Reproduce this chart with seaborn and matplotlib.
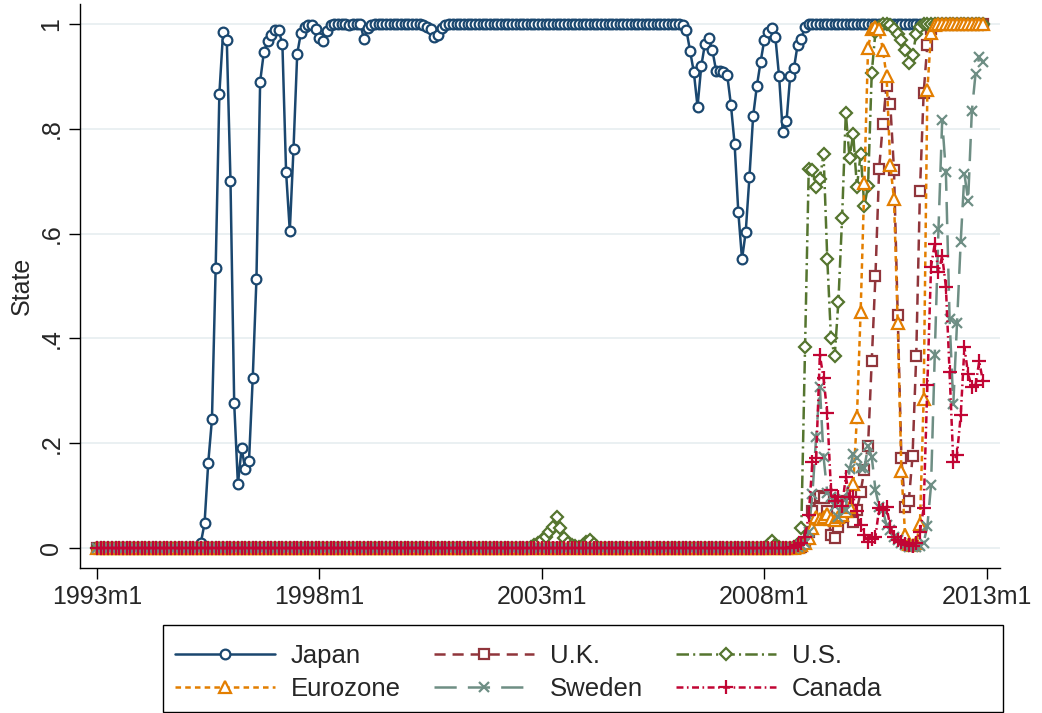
import numpy as np
import matplotlib
matplotlib.use("Agg")
import matplotlib.pyplot as plt
from matplotlib.patches import Rectangle
import seaborn as sns

# Monthly probability of being in the state, 1993m1 .. 2012m12 (one row per year)
japan = [
    0, 0, 0, 0, 0, 0, 0, 0, 0, 0, 0, 0,                                         # 1993
    0, 0, 0, 0, 0, 0, 0, 0, 0, 0, 0, 0,                                         # 1994
    0, 0, 0, 0, 0.01, 0.047, 0.163, 0.246, 0.534, 0.867, 0.984, 0.969,          # 1995
    0.700, 0.276, 0.122, 0.19, 0.15, 0.167, 0.324, 0.513, 0.89, 0.946, 0.968, 0.979,  # 1996
    0.988, 0.988, 0.962, 0.717, 0.605, 0.762, 0.943, 0.983, 0.994, 0.998, 0.998, 0.99,  # 1997
    0.973, 0.967, 0.987, 0.997, 0.999, 1, 1, 0.999, 0.998, 0.999, 1, 1,         # 1998
    0.972, 0.993, 0.998, 1, 1, 1, 0.999, 1, 1, 1, 1, 1,                         # 1999
    1, 1, 1, 0.999, 0.998, 0.995, 0.99, 0.975, 0.978, 0.992, 0.998, 1,          # 2000
    1, 1, 1, 1, 1, 1, 1, 1, 1, 1, 1, 1,                                         # 2001
    1, 1, 1, 1, 1, 1, 1, 1, 1, 1, 1, 1,                                         # 2002
    1, 1, 1, 1, 1, 1, 1, 1, 1, 1, 1, 1,                                         # 2003
    1, 1, 1, 1, 1, 1, 1, 1, 1, 1, 1, 1,                                         # 2004
    1, 1, 1, 1, 1, 1, 1, 1, 1, 1, 1, 1,                                         # 2005
    1, 1, 0.998, 0.988, 0.948, 0.908, 0.842, 0.919, 0.962, 0.973, 0.95, 0.911,  # 2006
    0.911, 0.908, 0.903, 0.846, 0.771, 0.641, 0.551, 0.603, 0.708, 0.824, 0.881, 0.927,  # 2007
    0.969, 0.985, 0.992, 0.975, 0.9, 0.793, 0.814, 0.901, 0.915, 0.96, 0.972, 0.995,  # 2008
    0.999, 1, 1, 1, 1, 1, 1, 1, 1, 1, 1, 1,                                     # 2009
    1, 1, 1, 1, 1, 1, 1, 1, 1, 1, 1, 1,                                         # 2010
    1, 1, 1, 1, 1, 1, 1, 1, 1, 1, 1, 1,                                         # 2011
    1, 1, 1, 1, 1, 1, 1, 1, 1, 1, 1, 1,                                         # 2012
]

uk = [
    0, 0, 0, 0, 0, 0, 0, 0, 0, 0, 0, 0,                                         # 1993
    0, 0, 0, 0, 0, 0, 0, 0, 0, 0, 0, 0,                                         # 1994
    0, 0, 0, 0, 0, 0, 0, 0, 0, 0, 0, 0,                                         # 1995
    0, 0, 0, 0, 0, 0, 0, 0, 0, 0, 0, 0,                                         # 1996
    0, 0, 0, 0, 0, 0, 0, 0, 0, 0, 0, 0,                                         # 1997
    0, 0, 0, 0, 0, 0, 0, 0, 0, 0, 0, 0,                                         # 1998
    0, 0, 0, 0, 0, 0, 0, 0, 0, 0, 0, 0,                                         # 1999
    0, 0, 0, 0, 0, 0, 0, 0, 0, 0, 0, 0,                                         # 2000
    0, 0, 0, 0, 0, 0, 0, 0, 0, 0, 0, 0,                                         # 2001
    0, 0, 0, 0, 0, 0, 0, 0, 0, 0, 0, 0,                                         # 2002
    0, 0, 0, 0, 0, 0, 0, 0, 0, 0, 0, 0,                                         # 2003
    0, 0, 0, 0, 0, 0, 0, 0, 0, 0, 0, 0,                                         # 2004
    0, 0, 0, 0, 0, 0, 0, 0, 0, 0, 0, 0,                                         # 2005
    0, 0, 0, 0, 0, 0, 0, 0, 0, 0, 0, 0,                                         # 2006
    0, 0, 0, 0, 0, 0, 0, 0, 0, 0, 0, 0,                                         # 2007
    0, 0, 0, 0, 0, 0, 0, 0, 0, 0, 0.003, 0.01,                                  # 2008
    0.03, 0.07, 0.095, 0.1, 0.095, 0.07, 0.025, 0.019, 0.04, 0.09, 0.085, 0.06,  # 2009
    0.05, 0.073, 0.107, 0.149, 0.195, 0.356, 0.52, 0.724, 0.81, 0.881, 0.847, 0.721,  # 2010
    0.444, 0.171, 0.079, 0.09, 0.175, 0.367, 0.681, 0.868, 0.96, 0.99, 0.998, 1,  # 2011
    1, 1, 1, 1, 1, 1, 1, 1, 1, 1, 1, 1,                                         # 2012
]

us = [
    0, 0, 0, 0, 0, 0, 0, 0, 0, 0, 0, 0,                                         # 1993
    0, 0, 0, 0, 0, 0, 0, 0, 0, 0, 0, 0,                                         # 1994
    0, 0, 0, 0, 0, 0, 0, 0, 0, 0, 0, 0,                                         # 1995
    0, 0, 0, 0, 0, 0, 0, 0, 0, 0, 0, 0,                                         # 1996
    0, 0, 0, 0, 0, 0, 0, 0, 0, 0, 0, 0,                                         # 1997
    0, 0, 0, 0, 0, 0, 0, 0, 0, 0, 0, 0,                                         # 1998
    0, 0, 0, 0, 0, 0, 0, 0, 0, 0, 0, 0,                                         # 1999
    0, 0, 0, 0, 0, 0, 0, 0, 0, 0, 0, 0,                                         # 2000
    0, 0, 0, 0, 0, 0, 0, 0, 0, 0, 0, 0,                                         # 2001
    0, 0, 0, 0, 0, 0, 0, 0, 0, 0.003, 0.006, 0.01,                              # 2002
    0.015, 0.022, 0.03, 0.04, 0.06, 0.038, 0.02, 0.01, 0.006, 0.004, 0.003, 0.005,  # 2003
    0.012, 0.015, 0.008, 0.003, 0, 0, 0, 0, 0, 0, 0, 0,                         # 2004
    0, 0, 0, 0, 0, 0, 0, 0, 0, 0, 0, 0,                                         # 2005
    0, 0, 0, 0, 0, 0, 0, 0, 0, 0, 0, 0,                                         # 2006
    0, 0, 0, 0, 0, 0, 0, 0, 0, 0, 0, 0,                                         # 2007
    0, 0.006, 0.014, 0.006, 0.002, 0, 0, 0, 0.003, 0.008, 0.038, 0.383,         # 2008
    0.723, 0.721, 0.689, 0.705, 0.751, 0.552, 0.401, 0.366, 0.47, 0.63, 0.83, 0.745,  # 2009
    0.79, 0.689, 0.752, 0.652, 0.691, 0.907, 0.985, 0.995, 1, 1, 0.998, 0.99,   # 2010
    0.98, 0.97, 0.95, 0.925, 0.94, 0.98, 0.995, 1, 1, 1, 1, 1,                  # 2011
    1, 1, 1, 1, 1, 1, 1, 1, 1, 1, 1, 1,                                         # 2012
]

eurozone = [
    0, 0, 0, 0, 0, 0, 0, 0, 0, 0, 0, 0,                                         # 1993
    0, 0, 0, 0, 0, 0, 0, 0, 0, 0, 0, 0,                                         # 1994
    0, 0, 0, 0, 0, 0, 0, 0, 0, 0, 0, 0,                                         # 1995
    0, 0, 0, 0, 0, 0, 0, 0, 0, 0, 0, 0,                                         # 1996
    0, 0, 0, 0, 0, 0, 0, 0, 0, 0, 0, 0,                                         # 1997
    0, 0, 0, 0, 0, 0, 0, 0, 0, 0, 0, 0,                                         # 1998
    0, 0, 0, 0, 0, 0, 0, 0, 0, 0, 0, 0,                                         # 1999
    0, 0, 0, 0, 0, 0, 0, 0, 0, 0, 0, 0,                                         # 2000
    0, 0, 0, 0, 0, 0, 0, 0, 0, 0, 0, 0,                                         # 2001
    0, 0, 0, 0, 0, 0, 0, 0, 0, 0, 0, 0,                                         # 2002
    0, 0, 0, 0, 0, 0, 0, 0, 0, 0, 0, 0,                                         # 2003
    0, 0, 0, 0, 0, 0, 0, 0, 0, 0, 0, 0,                                         # 2004
    0, 0, 0, 0, 0, 0, 0, 0, 0, 0, 0, 0,                                         # 2005
    0, 0, 0, 0, 0, 0, 0, 0, 0, 0, 0, 0,                                         # 2006
    0, 0, 0, 0, 0, 0, 0, 0, 0, 0, 0, 0,                                         # 2007
    0, 0, 0, 0, 0, 0, 0, 0, 0, 0.002, 0.005, 0.009,                             # 2008
    0.02, 0.038, 0.06, 0.055, 0.06, 0.065, 0.055, 0.053, 0.06, 0.063, 0.07, 0.079,  # 2009
    0.122, 0.25, 0.451, 0.696, 0.954, 0.99, 0.994, 0.99, 0.95, 0.9, 0.731, 0.666,  # 2010
    0.43, 0.147, 0.025, 0.008, 0.005, 0.01, 0.045, 0.284, 0.874, 0.982, 0.998, 1,  # 2011
    1, 1, 1, 1, 1, 1, 1, 1, 1, 1, 1, 1,                                         # 2012
]

sweden = [
    0, 0, 0, 0, 0, 0, 0, 0, 0, 0, 0, 0,                                         # 1993
    0, 0, 0, 0, 0, 0, 0, 0, 0, 0, 0, 0,                                         # 1994
    0, 0, 0, 0, 0, 0, 0, 0, 0, 0, 0, 0,                                         # 1995
    0, 0, 0, 0, 0, 0, 0, 0, 0, 0, 0, 0,                                         # 1996
    0, 0, 0, 0, 0, 0, 0, 0, 0, 0, 0, 0,                                         # 1997
    0, 0, 0, 0, 0, 0, 0, 0, 0, 0, 0, 0,                                         # 1998
    0, 0, 0, 0, 0, 0, 0, 0, 0, 0, 0, 0,                                         # 1999
    0, 0, 0, 0, 0, 0, 0, 0, 0, 0, 0, 0,                                         # 2000
    0, 0, 0, 0, 0, 0, 0, 0, 0, 0, 0, 0,                                         # 2001
    0, 0, 0, 0, 0, 0, 0, 0, 0, 0, 0, 0,                                         # 2002
    0, 0, 0, 0, 0, 0, 0, 0, 0, 0, 0, 0,                                         # 2003
    0, 0, 0, 0, 0, 0, 0, 0, 0, 0, 0, 0,                                         # 2004
    0, 0, 0, 0, 0, 0, 0, 0, 0, 0, 0, 0,                                         # 2005
    0, 0, 0, 0, 0, 0, 0, 0, 0, 0, 0, 0,                                         # 2006
    0, 0, 0, 0, 0, 0, 0, 0, 0, 0, 0, 0,                                         # 2007
    0, 0, 0, 0, 0, 0, 0, 0, 0, 0.002, 0.005, 0.01,                              # 2008
    0.03, 0.104, 0.212, 0.308, 0.174, 0.106, 0.098, 0.08, 0.06, 0.096, 0.073, 0.15,  # 2009
    0.18, 0.171, 0.152, 0.152, 0.195, 0.174, 0.111, 0.079, 0.072, 0.044, 0.035, 0.022,  # 2010
    0.015, 0.01, 0.005, 0.003, 0.002, 0.002, 0.004, 0.01, 0.042, 0.12, 0.369, 0.608,  # 2011
    0.816, 0.717, 0.437, 0.274, 0.43, 0.584, 0.714, 0.663, 0.833, 0.905, 0.936, 0.927,  # 2012
]

canada = [
    0, 0, 0, 0, 0, 0, 0, 0, 0, 0, 0, 0,                                         # 1993
    0, 0, 0, 0, 0, 0, 0, 0, 0, 0, 0, 0,                                         # 1994
    0, 0, 0, 0, 0, 0, 0, 0, 0, 0, 0, 0,                                         # 1995
    0, 0, 0, 0, 0, 0, 0, 0, 0, 0, 0, 0,                                         # 1996
    0, 0, 0, 0, 0, 0, 0, 0, 0, 0, 0, 0,                                         # 1997
    0, 0, 0, 0, 0, 0, 0, 0, 0, 0, 0, 0,                                         # 1998
    0, 0, 0, 0, 0, 0, 0, 0, 0, 0, 0, 0,                                         # 1999
    0, 0, 0, 0, 0, 0, 0, 0, 0, 0, 0, 0,                                         # 2000
    0, 0, 0, 0, 0, 0, 0, 0, 0, 0, 0, 0,                                         # 2001
    0, 0, 0, 0, 0, 0, 0, 0, 0, 0, 0, 0,                                         # 2002
    0, 0, 0, 0, 0, 0, 0, 0, 0, 0, 0, 0,                                         # 2003
    0, 0, 0, 0, 0, 0, 0, 0, 0, 0, 0, 0,                                         # 2004
    0, 0, 0, 0, 0, 0, 0, 0, 0, 0, 0, 0,                                         # 2005
    0, 0, 0, 0, 0, 0, 0, 0, 0, 0, 0, 0,                                         # 2006
    0, 0, 0, 0, 0, 0, 0, 0, 0, 0, 0, 0,                                         # 2007
    0, 0, 0, 0, 0, 0, 0, 0, 0.002, 0.005, 0.01, 0.022,                          # 2008
    0.063, 0.165, 0.171, 0.368, 0.324, 0.257, 0.111, 0.09, 0.098, 0.08, 0.136, 0.098,  # 2009
    0.098, 0.07, 0.044, 0.025, 0.011, 0.018, 0.022, 0.076, 0.073, 0.078, 0.041, 0.022,  # 2010
    0.015, 0.012, 0.008, 0.005, 0.004, 0.01, 0.031, 0.076, 0.311, 0.537, 0.581, 0.526,  # 2011
    0.557, 0.499, 0.335, 0.165, 0.178, 0.253, 0.383, 0.332, 0.308, 0.311, 0.356, 0.318,  # 2012
]

series_names = ["Japan", "U.K.", "U.S.", "Eurozone", "Sweden", "Canada"]
x_tick_months = [0, 60, 120, 180, 240]
x_tick_labels = ["1993m1", "1998m1", "2003m1", "2008m1", "2013m1"]
y_ticks = [0, 0.2, 0.4, 0.6, 0.8, 1.0]
y_tick_labels = ["0", ".2", ".4", ".6", ".8", "1"]

# Stata s2color-like styling for each series
styles = {
    "Japan":    dict(color="#1a476f", ls="-",                    marker="o", ms=7.0, fc="white"),
    "U.K.":     dict(color="#90353b", ls=(0, (8, 5)),            marker="s", ms=6.5, fc="white"),
    "U.S.":     dict(color="#55752f", ls=(0, (9, 3, 1.5, 3)),    marker="D", ms=6.5, fc="white"),
    "Eurozone": dict(color="#e37e00", ls=(0, (4, 3)),            marker="^", ms=8.0, fc="white"),
    "Sweden":   dict(color="#6e8e84", ls=(0, (16, 8)),           marker="x", ms=7.0, fc="none"),
    "Canada":   dict(color="#c10534", ls=(0, (5, 2.5, 1.2, 2.5)), marker="+", ms=10.0, fc="none"),
}

sns.set_theme(style="white")
plt.rcParams["font.family"] = ["Liberation Sans", "DejaVu Sans"]
plt.rcParams["lines.scale_dashes"] = False

W, H = 1042, 713
fig = plt.figure(figsize=(W / 100, H / 100), dpi=100)
ax = fig.add_axes([80 / W, 145 / H, 920 / W, 564 / H])

data = {"Japan": japan, "U.K.": uk, "U.S.": us,
        "Eurozone": eurozone, "Sweden": sweden, "Canada": canada}
months = np.arange(len(japan))

lines = {}
for name in series_names:
    st = styles[name]
    sns.lineplot(x=months, y=np.asarray(data[name], dtype=float), ax=ax,
                 color=st["color"], linestyle=st["ls"], linewidth=1.8,
                 marker=st["marker"], markersize=st["ms"],
                 markerfacecolor=st["fc"], markeredgecolor=st["color"],
                 markeredgewidth=1.6, errorbar=None, sort=False,
                 legend=False, label=name)
    lines[name] = ax.get_lines()[-1]

ax.set_xlim(-4.6, 243.6)
ax.set_ylim(-0.038, 1.038)
ax.set_xticks(x_tick_months)
ax.set_xticklabels(x_tick_labels, fontsize=18)
ax.set_yticks(y_ticks)
ax.set_yticklabels(y_tick_labels, fontsize=18, rotation=90, va="center")
ax.tick_params(axis="both", direction="out", length=8, width=1,
               color="black", pad=4, left=True, bottom=True)
ax.set_xlabel("")
ax.set_ylabel("State", fontsize=18, labelpad=4)

ax.yaxis.grid(True, color="#e8eff1", linewidth=1.3)
ax.xaxis.grid(False)
ax.set_axisbelow(True)
for side in ["top", "right"]:
    ax.spines[side].set_visible(False)
for side in ["left", "bottom"]:
    ax.spines[side].set_color("black")
    ax.spines[side].set_linewidth(1.0)

# Legend: three columns, filled row by row
order = ["Japan", "Eurozone", "U.K.", "Sweden", "U.S.", "Canada"]
leg = fig.legend([lines[n] for n in order], order, ncol=3,
                 loc="upper left", bbox_to_anchor=(175 / W, (H - 644) / H),
                 frameon=False, fontsize=18.5, handlelength=3.9,
                 handletextpad=0.6, columnspacing=1.3, labelspacing=0.36,
                 borderpad=0, borderaxespad=0)
fig.add_artist(Rectangle((163 / W, 1 / H), 840 / W, 87 / H,
                         transform=fig.transFigure, fill=False,
                         edgecolor="black", linewidth=1.0))

fig.savefig("out.png", dpi=100, facecolor="white")
